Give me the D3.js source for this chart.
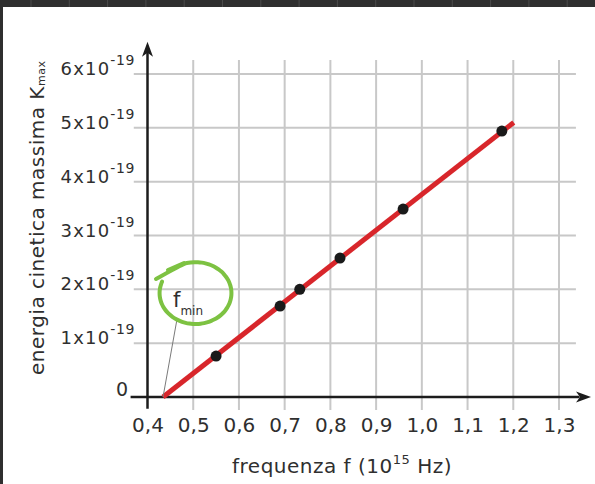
<!DOCTYPE html>
<html>
<head>
<meta charset="utf-8">
<script src="https://cdn.jsdelivr.net/npm/d3@7"></script>
<style>
  html, body { margin: 0; padding: 0; background: #ffffff; }
  svg { display: block; }
</style>
</head>
<body>
<div id="container"></div>
<script>
/* Données */
const frequencies = [0.55, 0.69, 0.733, 0.821, 0.959, 1.175];   // 10^15 Hz
const energies = [0.76, 1.69, 2.00, 2.58, 3.49, 4.94];          // 10^-19 J
const fitFreq = [0.434, 1.201];
const fitEnergy = [0, 5.10];
const fMin = 0.434;

const xTickValues = [0.4, 0.5, 0.6, 0.7, 0.8, 0.9, 1.0, 1.1, 1.2, 1.3];
const xTickLabels = ["0,4", "0,5", "0,6", "0,7", "0,8", "0,9", "1,0", "1,1", "1,2", "1,3"];
const yTickValues = [1, 2, 3, 4, 5, 6];
const yTickLabels = ["1x10", "2x10", "3x10", "4x10", "5x10", "6x10"];
const yTickExp = "-19";

/* Dimensions */
const W = 595, H = 484;
const fontPolice = "'DejaVu Sans', sans-serif";
const textColor = "#2f2f2f";
const axisColor = "#1c1c1c";
const gridColor = "#c8c8c8";

const svg = d3.select("#container").append("svg")
  .attr("width", W)
  .attr("height", H);

/* Echelles */
const x = d3.scaleLinear().domain([0.4, 1.3]).range([147.5, 559]);
const y = d3.scaleLinear().domain([0, 6]).range([397, 74]);

/* Cadre sombre (capture d'écran) */
svg.append("rect").attr("x", 0).attr("y", 0).attr("width", W).attr("height", 7).attr("fill", "#2f2f2f");
svg.append("rect").attr("x", 0).attr("y", 0).attr("width", 3).attr("height", H).attr("fill", "#2f2f2f");
svg.selectAll(".sep")
  .data(d3.range(31, W, 38.3))
  .enter().append("line")
    .attr("class", "sep")
    .attr("x1", d => d).attr("x2", d => d)
    .attr("y1", 0).attr("y2", 7)
    .attr("stroke", "#4a4a4a").attr("stroke-width", 1);

/* Grille */
const grid = svg.append("g");
grid.selectAll(".vgrid")
  .data(xTickValues.slice(1))
  .enter().append("line")
    .attr("x1", d => x(d)).attr("x2", d => x(d))
    .attr("y1", y(6.26)).attr("y2", y(-0.24))
    .attr("stroke", gridColor).attr("stroke-width", 2);
grid.selectAll(".hgrid")
  .data(yTickValues)
  .enter().append("line")
    .attr("x1", x(0.37)).attr("x2", x(1.337))
    .attr("y1", d => y(d)).attr("y2", d => y(d))
    .attr("stroke", gridColor).attr("stroke-width", 2);

/* Axes */
svg.append("line")
  .attr("x1", x(0.4)).attr("x2", x(0.4))
  .attr("y1", y(-0.22)).attr("y2", y(6.45))
  .attr("stroke", axisColor).attr("stroke-width", 2.5);
svg.append("path")
  .attr("d", d3.line()([[x(0.4), y(6.6)], [x(0.4) - 5.5, y(6.6) + 15], [x(0.4), y(6.6) + 11], [x(0.4) + 5.5, y(6.6) + 15]]) + "Z")
  .attr("fill", axisColor);
svg.append("line")
  .attr("x1", x(0.363)).attr("x2", x(1.345))
  .attr("y1", y(0)).attr("y2", y(0))
  .attr("stroke", axisColor).attr("stroke-width", 2.5);
svg.append("path")
  .attr("d", d3.line()([[x(1.37), y(0)], [x(1.37) - 15, y(0) - 5.5], [x(1.37) - 11, y(0)], [x(1.37) - 15, y(0) + 5.5]]) + "Z")
  .attr("fill", axisColor);

/* Etiquettes de l'axe x */
const xAxis = svg.append("g")
  .attr("transform", "translate(0," + y(0) + ")")
  .call(d3.axisBottom(x)
    .tickValues(xTickValues)
    .tickFormat((d, i) => xTickLabels[i])
    .tickSize(0)
    .tickPadding(21));
xAxis.select(".domain").remove();
xAxis.selectAll("text")
  .style("font-family", fontPolice)
  .style("font-size", "20px")
  .attr("fill", textColor);

/* Etiquettes de l'axe y */
const yLab = svg.selectAll(".ylab")
  .data(yTickValues)
  .enter().append("text")
    .attr("x", 135)
    .attr("y", d => y(d) + 1)
    .attr("text-anchor", "end")
    .style("font-family", fontPolice)
    .style("font-size", "18px")
    .style("letter-spacing", "1.2px")
    .attr("fill", textColor);
yLab.append("tspan").text((d, i) => yTickLabels[i]);
yLab.append("tspan")
  .attr("dy", -10)
  .style("font-size", "14px")
  .style("letter-spacing", "0.6px")
  .text(yTickExp);

svg.append("text")
  .attr("x", 128)
  .attr("y", y(0) - 1)
  .attr("text-anchor", "end")
  .style("font-family", fontPolice)
  .style("font-size", "19px")
  .attr("fill", textColor)
  .text("0");

/* Titres des axes */
const xTitle = svg.append("text")
  .attr("x", 342)
  .attr("y", 473)
  .attr("text-anchor", "middle")
  .style("font-family", fontPolice)
  .style("font-size", "20px")
  .style("letter-spacing", "0.5px")
  .attr("fill", textColor);
xTitle.append("tspan").text("frequenza f (10");
xTitle.append("tspan").attr("dy", -9).style("font-size", "13px").text("15");
xTitle.append("tspan").attr("dy", 9).text(" Hz)");

const yTitle = svg.append("text")
  .attr("transform", "translate(44,375) rotate(-90)")
  .attr("text-anchor", "start")
  .style("font-family", fontPolice)
  .style("font-size", "20px")
  .style("letter-spacing", "0.5px")
  .attr("fill", textColor);
yTitle.append("tspan").text("energia cinetica massima K");
yTitle.append("tspan").attr("dy", 1).style("font-size", "11px").text("max");

/* Droite de régression */
svg.append("line")
  .attr("x1", x(fitFreq[0])).attr("y1", y(fitEnergy[0]))
  .attr("x2", x(fitFreq[1])).attr("y2", y(fitEnergy[1]))
  .attr("stroke", "#d8262b")
  .attr("stroke-width", 5);

/* Points de mesure */
svg.selectAll(".pt")
  .data(frequencies)
  .enter().append("circle")
    .attr("cx", d => x(d))
    .attr("cy", (d, i) => y(energies[i]))
    .attr("r", 5.5)
    .attr("fill", "#1a1a1a");

/* Annotation f_min */
svg.append("line")
  .attr("x1", x(fMin)).attr("y1", y(0))
  .attr("x2", x(fMin) + 14).attr("y2", y(0) - 78)
  .attr("stroke", "#7a7a7a")
  .attr("stroke-width", 1);
const fLab = svg.append("text")
  .attr("x", 173)
  .attr("y", 307)
  .style("font-family", fontPolice)
  .style("font-size", "21px")
  .attr("fill", textColor);
fLab.append("tspan").text("f");
fLab.append("tspan").attr("dy", 8).style("font-size", "12px").text("min");

/* Cercle vert dessiné à la main */
const cx = x(0.505), cy = y(1.93), rx = 36, ry = 31;
const ring = d3.range(-110, 208, 6).map(a => {
  const t = a * Math.PI / 180;
  return [cx + rx * Math.cos(t), cy + ry * Math.sin(t)];
});
svg.append("path")
  .attr("d", d3.line().curve(d3.curveBasis)([[156, 279]].concat(ring)))
  .attr("fill", "none")
  .attr("stroke", "#7dc242")
  .attr("stroke-width", 4)
  .attr("stroke-linecap", "round");
svg.append("line")
  .attr("x1", 168).attr("y1", 270)
  .attr("x2", 184).attr("y2", 263)
  .attr("stroke", "#7dc242")
  .attr("stroke-width", 4)
  .attr("stroke-linecap", "round");
</script>
</body>
</html>
